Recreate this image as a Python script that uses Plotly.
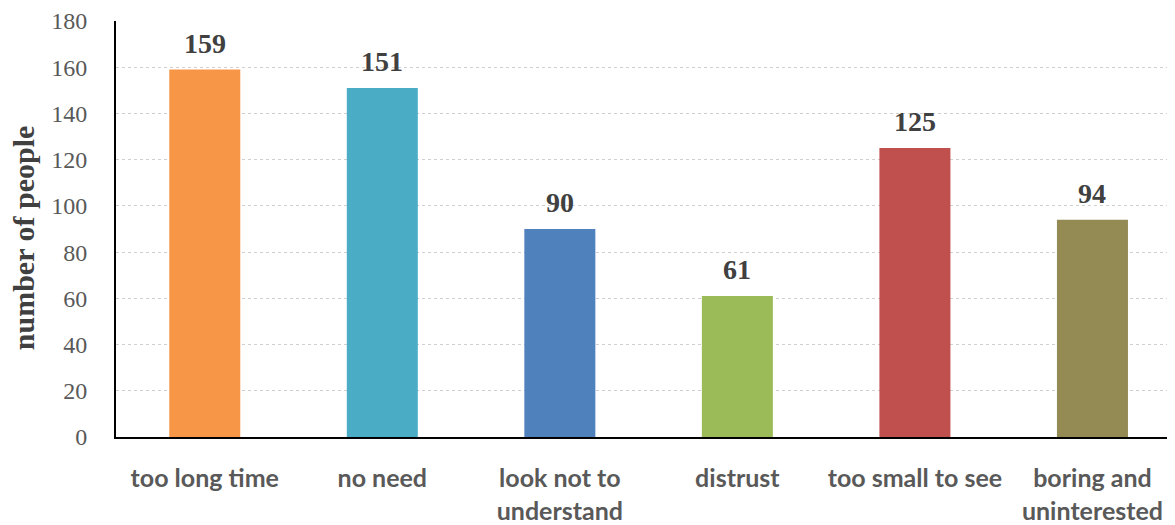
import plotly.graph_objects as go

categories = ["too long time", "no need", "look not to<br>understand", "distrust",
              "too small to see", "boring and<br>uninterested"]
values = [159, 151, 90, 61, 125, 94]
colors = ["#F79646", "#4BACC6", "#4F81BD", "#9BBB59", "#C0504D", "#948A54"]
y_ticks = [0, 20, 40, 60, 80, 100, 120, 140, 160, 180]

fig = go.Figure()
fig.add_trace(go.Bar(
    x=list(range(len(categories))), y=values, marker=dict(color=colors, line=dict(width=0)),
    width=0.4, showlegend=False, hoverinfo="skip",
))
for i, v in enumerate(values):
    fig.add_annotation(x=i, y=v, text=f"<b>{v}</b>", showarrow=False, yanchor="bottom",
                       yshift=9, font=dict(family="Liberation Serif", size=28, color="#404040"))

fig.add_annotation(xref="paper", yref="paper", x=-0.0878, y=0.478, xanchor="center", yanchor="middle",
                   text="<b>number of people</b>", textangle=-90, showarrow=False,
                   font=dict(family="Liberation Serif", size=30, color="#404040"))

# page body has an 8px margin, so the figure is sized to fit the window
fig.update_layout(
    width=1167, height=517, margin=dict(l=108, r=0, t=13, b=88, autoexpand=False),
    paper_bgcolor="white", plot_bgcolor="white", bargap=0.6,
)
fig.update_xaxes(
    range=[-0.5, 5.465], tickmode="array", tickvals=list(range(len(categories))),
    ticktext=[f"<b>{c}</b>" for c in categories],
    tickfont=dict(family="Lato", size=25, color="#595959"),
    showline=True, linecolor="black", linewidth=2, showgrid=False, ticks="", ticklabelstandoff=18,
    zeroline=False, automargin=False,
)
fig.update_yaxes(
    range=[0, 180], tickvals=y_ticks, tickfont=dict(family="Liberation Serif", size=24, color="#595959"),
    showline=True, linecolor="black", linewidth=2, showgrid=True, gridcolor="#d0d0d0", griddash="dot",
    gridwidth=1, ticks="", ticklabelstandoff=22, zeroline=False, automargin=False,
)
fig.write_html("out.html")
